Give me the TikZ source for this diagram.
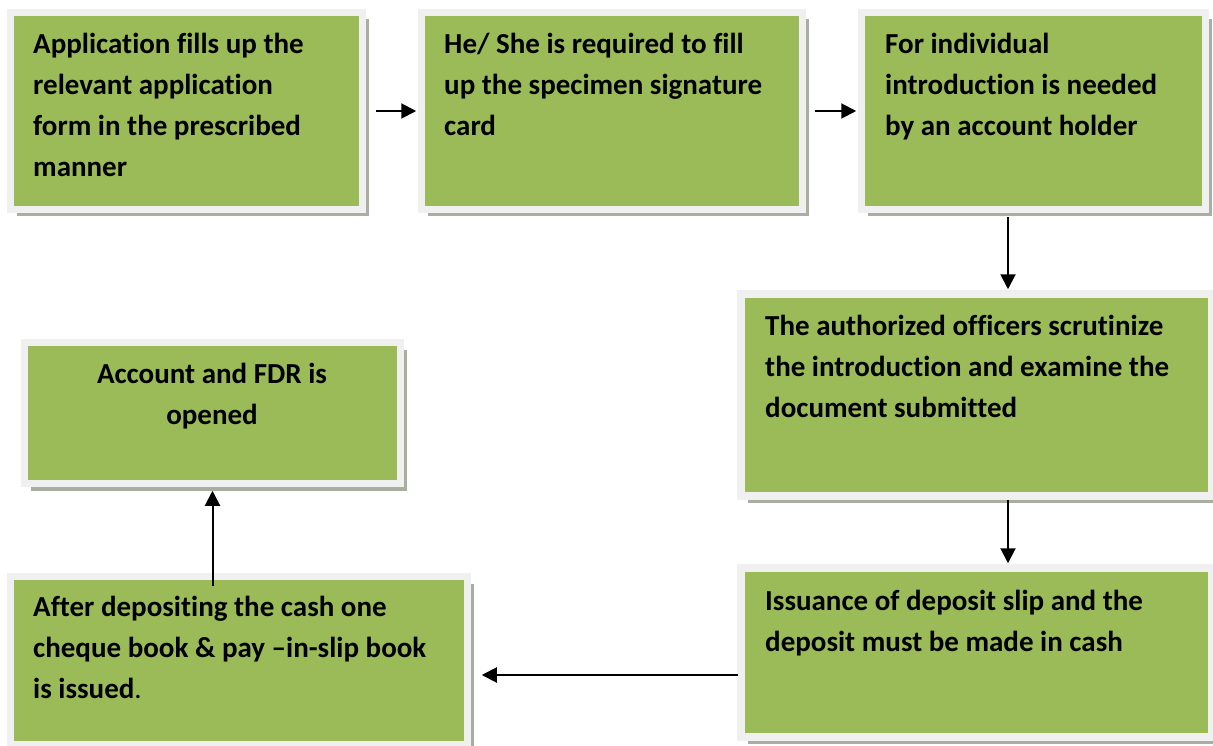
\documentclass[tikz,border=0pt]{standalone}
\usepackage{fontspec}
\setmainfont[Ligatures=NoCommon]{Carlito}
\usetikzlibrary{arrows.meta,shadows}
\definecolor{boxgreen}{HTML}{9BBB59}
\definecolor{framec}{HTML}{F0F0F0}
\definecolor{shadowc}{HTML}{A8AEA0}
\tikzset{
  stepbox/.style={draw=framec, line width=7.5pt, fill=boxgreen, inner sep=0pt,
    drop shadow={shadow xshift=6.5pt, shadow yshift=-7pt, fill=shadowc, opacity=1}},
  steptext/.style={anchor=north west, inner sep=0pt, align=left,
    font=\fontsize{29}{41}\selectfont\bfseries},
  arr/.style={line width=2pt, -{Triangle[length=15pt,width=15pt]}}
}
\newcommand{\boxat}[5]{%
  \node[stepbox, minimum width={#4-#2}, minimum height={#5-#3}] (#1) at ({(#2+#4)/2},{(#3+#5)/2}) {};}
\begin{document}
\begin{tikzpicture}[x=1pt,y=-1pt]
\useasboundingbox (0,0) rectangle (1213,746);
\boxat{b1}{10.5}{12.5}{362.5}{209.5}
\boxat{b2}{421.5}{12.5}{802.5}{209.5}
\boxat{b3}{861.5}{12.5}{1205.5}{209.5}
\boxat{b4}{741}{294}{1212}{496}
\boxat{b5}{24.5}{342.5}{400.5}{483.5}
\boxat{b6}{741}{568}{1212}{737}
\boxat{b7}{10.5}{576.5}{467.5}{744.5}

\node[steptext] (t1) at (33,33) {Application fills up the\\relevant application\\form in the prescribed\\manner};
\node[steptext] (t2) at (444,33) {He/ She is required to fill\\up the specimen signature\\card};
\node[steptext] (t3) at (885,33) {For individual\\introduction is needed\\by an account holder};
\node[steptext] (t4) at (765,315) {The authorized officers scrutinize\\the introduction and examine the\\document submitted};
\node[steptext, anchor=north, align=center] (t5) at (212,363) {Account and FDR is\\opened};
\node[steptext] (t6) at (765,590) {Issuance of deposit slip and the\\deposit must be made in cash};
\node[steptext] (t7) at (33,596) {After depositing the cash one\\cheque book \& pay –in-slip book\\is issued{\mdseries.}};

\coordinate (v1) at (1008,0);
\coordinate (h1) at (0,675);
\draw[arr] ([xshift=9.5pt]b1.east) -- ([xshift=-1.5pt]b2.west);
\draw[arr] ([xshift=8.5pt]b2.east) -- ([xshift=-1.5pt]b3.west);
\draw[arr] ([yshift=-3.5pt]b3.south -| v1) -- ([yshift=1pt]b4.north -| v1);
\draw[arr] (b4.south -| v1) -- ([yshift=1pt]b6.north -| v1);
\draw[arr] ([xshift=1pt]b6.west |- h1) -- ([xshift=10.5pt]b7.east |- h1);
\draw[arr] ([yshift=-13.5pt]b7.north -| b5.south) -- ([yshift=-3.5pt]b5.south);
\end{tikzpicture}
\end{document}
